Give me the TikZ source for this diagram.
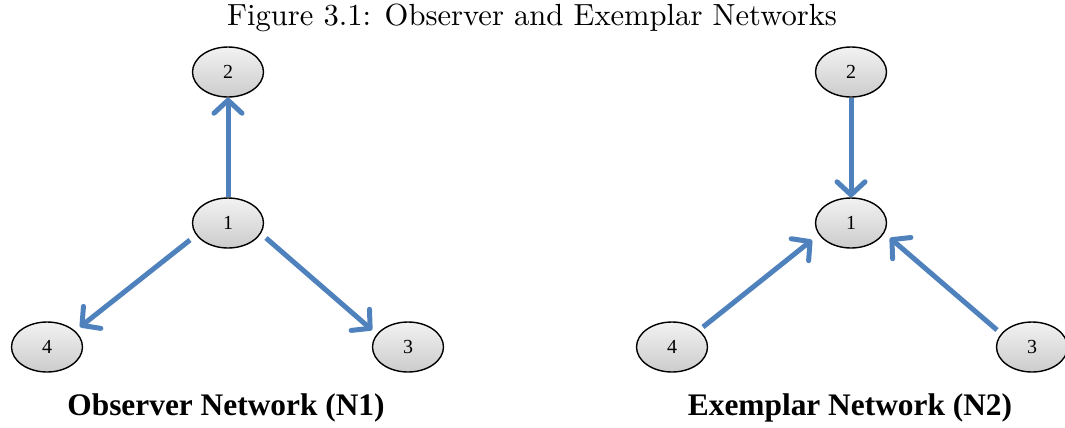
\documentclass[tikz,border=0pt]{standalone}
\usepackage{fontspec}
\newfontfamily\timesfont{Liberation Serif}
\usetikzlibrary{arrows.meta,shapes.geometric,calc}
\definecolor{edgeblue}{RGB}{79,129,189}
\definecolor{nodetop}{RGB}{242,242,242}
\definecolor{nodebot}{RGB}{204,204,204}
\tikzset{
  vertex/.style={ellipse, draw=black, line width=1.4bp, minimum width=71bp,
    minimum height=50bp, inner sep=0pt, top color=nodetop, bottom color=nodebot,
    font=\timesfont\fontsize{20}{20}\selectfont},
  link/.style={draw=edgeblue, line width=5bp,
    -{Straight Barb[length=13bp,width=28bp,line join=round,line cap=round]}},
  caption/.style={font=\timesfont\bfseries\fontsize{31.5}{32}\selectfont},
}
\begin{document}
\begin{tikzpicture}[x=1bp,y=-1bp]
\useasboundingbox (0,0) rectangle (1065,427);
\begin{scope}
\clip (0,0) rectangle (1065,427);
\node[inner sep=0pt] (title) at (532,18) {\scalebox{3.07}{Figure 3.1: Observer and Exemplar Networks}};

% Observer network: node 1 points outwards
\node[vertex] (a2) at (228,72) {2};
\node[vertex] (a1) at (228,223) {1};
\node[vertex] (a4) at (47,347) {4};
\node[vertex] (a3) at (408,347) {3};
\draw[link] (a1.north) -- (a2.south);
\draw[link] ($(a1)+(-38,17)$) -- ($(a4)+(33,-20)$);
\draw[link] ($(a1)+(38,15)$) -- ($(a3)+(-36,-17)$);
\node[caption] (capA) at (226,408) {Observer Network (N1)};

% Exemplar network: all arrows point into node 1
\node[vertex] (b2) at (851,72) {2};
\node[vertex] (b1) at (851,223) {1};
\node[vertex] (b4) at (672,347) {4};
\node[vertex] (b3) at (1032,347) {3};
\draw[link] (b2.south) -- (b1.north);
\draw[link] ($(b4)+(31,-20)$) -- ($(b1)+(-39,17)$);
\draw[link] ($(b3)+(-35,-17)$) -- ($(b1)+(39,15)$);
\node[caption] (capB) at (850,408) {Exemplar Network (N2)};
\end{scope}
\end{tikzpicture}
\end{document}
